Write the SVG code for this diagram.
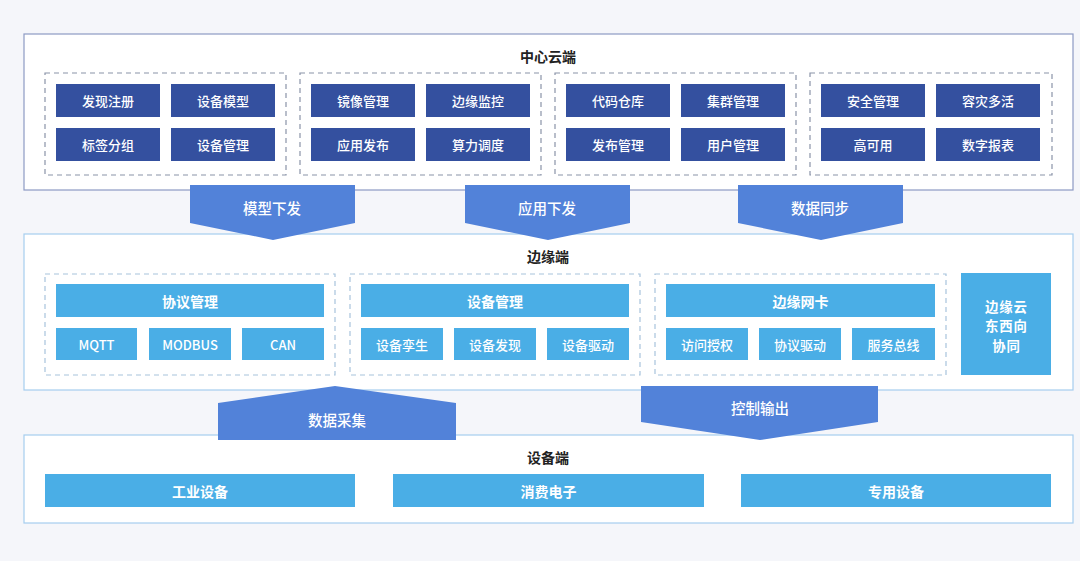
<svg xmlns="http://www.w3.org/2000/svg" width="1080" height="561" viewBox="0 0 1080 561">
<style>
text{font-family:"Noto Sans CJK SC","Liberation Sans",sans-serif;text-anchor:middle;dominant-baseline:central}
.bg{fill:#f5f6fa}
.panelTop{fill:#fff;stroke:#8d9ac4;stroke-width:1.2}
.panel{fill:#fff;stroke:#a6cdef;stroke-width:1.2}
.title{font-size:14px;font-weight:bold;fill:#222}
.grpT{fill:none;stroke:#8a93a8;stroke-width:1.2;stroke-dasharray:5 4}
.grp{fill:none;stroke:#a8c4dc;stroke-width:1.2;stroke-dasharray:5 4}
.dk{fill:#34509f}
.lt{fill:#4aaee6}
.t{font-size:13px;fill:#fff;font-weight:500}
.ta{font-size:14.5px;fill:#fff;font-weight:500}
.tb{font-size:14px;fill:#fff;font-weight:bold}
.tc{font-size:13.4px;fill:#fff;font-weight:bold;letter-spacing:0.8px}
.arr{fill:#5282d9}
</style>
<rect class="bg" x="0" y="0" width="1080" height="561"/>

<g id="cloud">
<rect class="panelTop" x="24" y="34" width="1049" height="156"/>
<text class="title" x="548" y="56">中心云端</text>
</g>
<g id="cloud-g1">
<rect class="grpT" x="45" y="73" width="241" height="102"/>
<rect class="dk" x="56" y="84" width="104" height="33"/><text class="t" x="108" y="100.5">发现注册</text>
<rect class="dk" x="171" y="84" width="104" height="33"/><text class="t" x="223" y="100.5">设备模型</text>
<rect class="dk" x="56" y="128" width="104" height="33"/><text class="t" x="108" y="144.5">标签分组</text>
<rect class="dk" x="171" y="128" width="104" height="33"/><text class="t" x="223" y="144.5">设备管理</text>
</g>
<g id="cloud-g2">
<rect class="grpT" x="300" y="73" width="241" height="102"/>
<rect class="dk" x="311" y="84" width="104" height="33"/><text class="t" x="363" y="100.5">镜像管理</text>
<rect class="dk" x="426" y="84" width="104" height="33"/><text class="t" x="478" y="100.5">边缘监控</text>
<rect class="dk" x="311" y="128" width="104" height="33"/><text class="t" x="363" y="144.5">应用发布</text>
<rect class="dk" x="426" y="128" width="104" height="33"/><text class="t" x="478" y="144.5">算力调度</text>
</g>
<g id="cloud-g3">
<rect class="grpT" x="555" y="73" width="241" height="102"/>
<rect class="dk" x="566" y="84" width="104" height="33"/><text class="t" x="618" y="100.5">代码仓库</text>
<rect class="dk" x="681" y="84" width="104" height="33"/><text class="t" x="733" y="100.5">集群管理</text>
<rect class="dk" x="566" y="128" width="104" height="33"/><text class="t" x="618" y="144.5">发布管理</text>
<rect class="dk" x="681" y="128" width="104" height="33"/><text class="t" x="733" y="144.5">用户管理</text>
</g>
<g id="cloud-g4">
<rect class="grpT" x="810" y="73" width="242" height="102"/>
<rect class="dk" x="821" y="84" width="104" height="33"/><text class="t" x="873" y="100.5">安全管理</text>
<rect class="dk" x="936" y="84" width="104" height="33"/><text class="t" x="988" y="100.5">容灾多活</text>
<rect class="dk" x="821" y="128" width="104" height="33"/><text class="t" x="873" y="144.5">高可用</text>
<rect class="dk" x="936" y="128" width="104" height="33"/><text class="t" x="988" y="144.5">数字报表</text>
</g>

<g id="edge">
<rect class="panel" x="24" y="234" width="1049" height="156"/>
<text class="title" x="548" y="256">边缘端</text>
</g>
<g id="edge-g1">
<rect class="grp" x="45" y="274" width="290" height="101"/>
<rect class="lt" x="56" y="284" width="268" height="33"/><text class="tb" x="190" y="300.5">协议管理</text>
<rect class="lt" x="56" y="328" width="81" height="32"/><text class="t" x="96.5" y="344">MQTT</text>
<rect class="lt" x="149" y="328" width="82" height="32"/><text class="t" x="190" y="344">MODBUS</text>
<rect class="lt" x="242" y="328" width="82" height="32"/><text class="t" x="283" y="344">CAN</text>
</g>
<g id="edge-g2">
<rect class="grp" x="350" y="274" width="290" height="101"/>
<rect class="lt" x="361" y="284" width="268" height="33"/><text class="tb" x="495" y="300.5">设备管理</text>
<rect class="lt" x="361" y="328" width="82" height="32"/><text class="t" x="402" y="344">设备孪生</text>
<rect class="lt" x="454" y="328" width="82" height="32"/><text class="t" x="495" y="344">设备发现</text>
<rect class="lt" x="547" y="328" width="82" height="32"/><text class="t" x="588" y="344">设备驱动</text>
</g>
<g id="edge-g3">
<rect class="grp" x="655" y="274" width="291" height="101"/>
<rect class="lt" x="666" y="284" width="269" height="33"/><text class="tb" x="800.5" y="300.5">边缘网卡</text>
<rect class="lt" x="666" y="328" width="82" height="32"/><text class="t" x="707" y="344">访问授权</text>
<rect class="lt" x="759" y="328" width="82" height="32"/><text class="t" x="800" y="344">协议驱动</text>
<rect class="lt" x="852" y="328" width="83" height="32"/><text class="t" x="893.5" y="344">服务总线</text>
</g>
<g id="edge-cloud">
<rect class="lt" x="961" y="273" width="90" height="102"/>
<text class="tc" x="1006.4" y="305.5">边缘云</text>
<text class="tc" x="1006.4" y="325">东西向</text>
<text class="tc" x="1006.4" y="344.5">协同</text>
</g>

<g id="device">
<rect class="panel" x="24" y="435" width="1049" height="88"/>
<text class="title" x="548" y="457">设备端</text>
<rect class="lt" x="45" y="474" width="310" height="33"/><text class="tb" x="200" y="490.5">工业设备</text>
<rect class="lt" x="393" y="474" width="311" height="33"/><text class="tb" x="548.5" y="490.5">消费电子</text>
<rect class="lt" x="741" y="474" width="310" height="33"/><text class="tb" x="896" y="490.5">专用设备</text>
</g>

<g id="connectors">
<polygon class="arr" points="190,185 355,185 355,223 273,240 190,223"/>
<text class="ta" x="272" y="207">模型下发</text>
<polygon class="arr" points="465,185 630,185 630,223 548,240 465,223"/>
<text class="ta" x="547" y="207">应用下发</text>
<polygon class="arr" points="738,185 903,185 903,223 821,240 738,223"/>
<text class="ta" x="820" y="207">数据同步</text>
<polygon class="arr" points="218,403 335,386 456,403 456,440 218,440"/>
<text class="ta" x="337" y="419">数据采集</text>
<polygon class="arr" points="641,386 878,386 878,422 760,440 641,422"/>
<text class="ta" x="760" y="407">控制输出</text>
</g>
</svg>
